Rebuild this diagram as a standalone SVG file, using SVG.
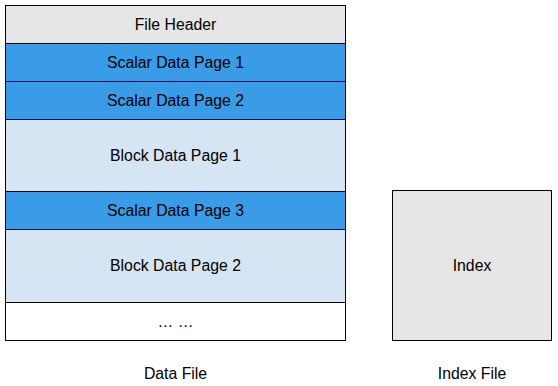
<svg xmlns="http://www.w3.org/2000/svg" width="558" height="386" viewBox="0 0 558 386">
<style>
rect{stroke:#000;stroke-width:1}
.h{fill:#e6e6e6}.s{fill:#3a9be6}.b{fill:#d5e5f3}.w{fill:#fff}
text{font-family:"Liberation Sans",Arial,sans-serif;font-size:15.8px;fill:#000;text-anchor:middle;dominant-baseline:central}
</style>
<g id="file-header"><rect class="h" x="5.5" y="5.5" width="340" height="38"/><text x="175.5" y="24">File Header</text></g>
<g id="scalar1"><rect class="s" x="5.5" y="43.5" width="340" height="38"/><text x="175.5" y="62">Scalar Data Page 1</text></g>
<g id="scalar2"><rect class="s" x="5.5" y="81.5" width="340" height="38"/><text x="175.5" y="100">Scalar Data Page 2</text></g>
<g id="block1"><rect class="b" x="5.5" y="119.5" width="340" height="72"/><text x="175.5" y="155">Block Data Page 1</text></g>
<g id="scalar3"><rect class="s" x="5.5" y="191.5" width="340" height="38"/><text x="175.5" y="210">Scalar Data Page 3</text></g>
<g id="block2"><rect class="b" x="5.5" y="229.5" width="340" height="73"/><text x="175.5" y="265.5">Block Data Page 2</text></g>
<g id="more"><rect class="w" x="5.5" y="302.5" width="340" height="38"/><text x="175.5" y="321">… …</text></g>
<g id="index"><rect class="h" x="392.5" y="190.5" width="159" height="150"/><text x="472" y="265">Index</text></g>
<g id="labels"><text x="175.5" y="373">Data File</text><text x="472" y="373">Index File</text></g>
<g id="connectors"/>
</svg>
